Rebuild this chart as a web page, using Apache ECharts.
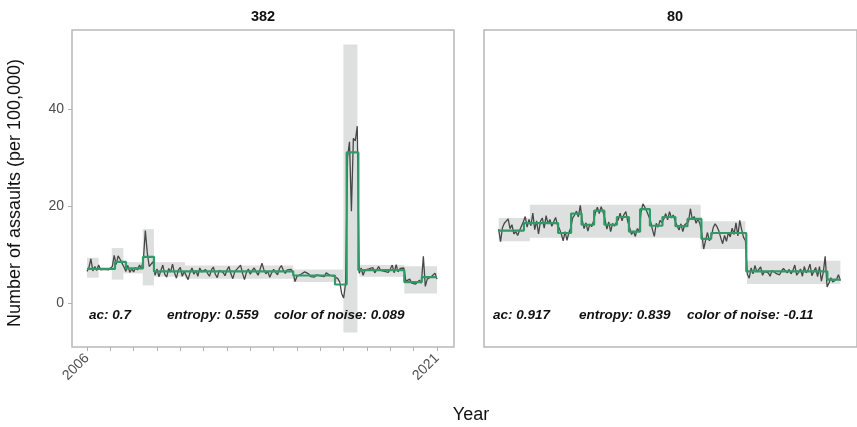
<!DOCTYPE html>
<html><head><meta charset="utf-8">
<script src="https://cdn.jsdelivr.net/npm/echarts@6/dist/echarts.min.js"></script>
<style>html,body{margin:0;padding:0;background:#fff}#c{width:857px;height:427px}</style>
</head><body><div id="c"></div>
<script>
// ---- data ----
const startYear = 2006;
const panelTitles = ['382', '80'];
const yTickValues = [0, 20, 40];
const xTickValues = [2006,2007,2008,2009,2010,2011,2012,2013,2014,2015,2016,2017,2018,2019,2020,2021];
const xLabelValues = [2006, 2021];

// monthly rates, Jan 2006 .. Jan 2021
const leftRaw = [
 6.6,7.4,9.2,6.7,7.6,6.8,7.9,6.9,7.3,7.0,7.4,6.9,
 7.2,7.6,9.9,8.0,9.8,9.1,8.3,7.5,6.6,7.8,6.4,7.1,
 6.5,7.4,6.9,7.9,7.1,9.0,15.0,10.4,7.6,7.2,8.6,5.8,
 7.1,5.5,6.8,7.9,6.0,5.4,7.2,6.5,8.1,6.3,5.2,6.9,
 7.4,5.6,6.6,7.0,4.9,6.4,7.3,6.0,6.8,5.6,7.3,6.5,
 6.1,7.0,6.2,5.6,6.9,7.5,6.0,5.3,6.8,7.2,6.4,5.7,
 6.9,7.6,6.1,5.1,6.5,7.0,6.6,7.9,6.2,4.9,6.4,7.1,
 6.0,6.8,7.3,6.5,5.8,7.0,8.3,6.9,6.1,6.6,5.4,6.3,
 7.0,6.4,5.9,7.2,7.8,6.8,6.2,6.9,6.5,7.0,6.3,4.5,
 5.6,5.2,6.0,5.8,6.5,6.8,6.1,5.5,5.8,5.4,5.9,5.6,
 5.7,6.0,5.5,6.3,6.1,5.8,5.9,5.6,6.0,5.1,4.4,2.0,
 1.1,4.1,30.0,33.3,19.0,34.0,33.5,36.5,6.2,7.3,5.8,6.9,
 6.5,7.1,6.7,7.4,6.3,6.9,7.6,6.8,7.2,6.6,7.0,6.4,
 7.1,7.9,6.3,8.0,6.5,7.2,6.8,7.3,4.6,4.3,5.0,4.2,
 4.5,4.0,3.6,4.8,4.2,9.7,3.5,5.0,4.6,5.5,5.2,6.2,
 5.0
];
const rightRaw = [
 15.3,12.7,15.6,16.5,16.2,17.4,15.4,16.2,14.3,14.8,14.0,15.0,14.6,
 16.8,17.9,15.7,17.3,16.0,18.6,15.2,17.0,14.3,16.9,17.6,15.5,18.1,16.4,17.3,15.9,16.8,17.7,16.1,
 15.4,14.3,12.9,14.8,13.0,14.6,15.6,
 17.6,18.2,19.0,17.8,20.2,
 17.2,15.4,16.6,14.9,16.3,15.8,17.0,
 18.7,19.8,18.5,19.9,18.8,
 17.4,15.3,16.8,14.8,16.5,15.9,16.7,
 17.2,18.6,17.0,18.3,18.9,16.9,
 15.6,14.2,14.9,13.8,15.4,14.8,
 18.8,20.5,19.8,19.0,18.9,
 17.0,15.2,13.8,16.5,15.7,17.1,16.6,
 17.4,18.5,17.2,18.9,17.6,18.2,16.9,
 16.6,15.1,16.4,14.8,16.2,16.3,
 16.8,19.5,17.3,17.9,16.5,17.4,16.4,
 14.5,11.2,13.0,14.6,12.9,13.6,
 15.6,16.4,15.8,14.9,13.5,12.3,14.0,12.8,14.6,13.7,15.5,14.2,16.6,13.9,17.1,15.2,13.6,12.9,
 6.0,5.2,7.3,6.1,7.8,6.5,6.2,7.5,5.8,6.6,6.9,6.3,5.6,6.8,7.0,6.2,6.5,5.9,6.7,7.2,
 6.9,6.3,7.0,6.1,6.8,7.9,5.8,6.4,7.1,5.6,7.6,6.3,6.9,8.1,5.7,6.6,7.4,5.5,
 7.6,4.6,6.4,9.7,3.4,
 4.2,5.3,4.4,4.8,5.0,5.9,4.7
];

// segment means (step line): breakpoints in years and level per segment
const leftStepBreaks = [2006.0,2007.2,2007.67,2008.4,2008.87,2014.84,2016.63,2017.13,2017.63,2019.6,2020.35,2021.0];
const leftStepLevels = [7.1,8.55,7.2,9.6,6.6,5.75,3.9,31.1,6.85,4.4,5.4];
const rightStepBreaks = [2006.0,2007.11,2008.61,2009.18,2009.64,2010.19,2010.64,2011.19,2011.72,2012.21,2012.64,2013.19,2013.76,2014.29,2014.9,2015.33,2016.87,2020.43,2021.0];
const rightStepLevels = [15.0,16.55,14.5,18.5,16.2,19.1,16.2,17.8,14.8,19.4,16.0,17.8,15.9,17.4,13.3,14.5,6.6,4.9];

// grey bands: start year, end year, low, high
const leftBandStart = [2006.0,2007.06,2007.56,2008.39,2008.87,2010.2,2014.84,2016.99,2017.67,2019.6];
const leftBandEnd   = [2006.5,2007.56,2008.39,2008.87,2010.2,2014.84,2016.99,2017.59,2019.6,2021.0];
const leftBandLow   = [5.3,4.9,6.2,3.7,5.5,5.1,4.4,-6.0,5.5,2.05];
const leftBandHigh  = [9.4,11.4,8.5,15.3,8.5,7.8,7.0,53.3,7.9,7.65];
const rightBandStart = [2006.0,2007.37,2014.87,2016.9];
const rightBandEnd   = [2007.37,2014.87,2016.83,2021.0];
const rightBandLow   = [12.8,13.5,11.2,4.0];
const rightBandHigh  = [17.6,20.3,16.9,8.8];

const leftStats  = ['ac: 0.7', 'entropy: 0.559', 'color of noise: 0.089'];
const rightStats = ['ac: 0.917', 'entropy: 0.839', 'color of noise: -0.11'];

// ---- build ----
const toPoints = raw => raw.map((v, i) => [startYear + i / 12, v]);
const toSteps = (b, l) => { const out = []; l.forEach((v, i) => { out.push([b[i], v]); out.push([b[i + 1], v]); }); return out; };
const toBands = (s, e, lo, hi) => s.map((v, i) => [v, e[i], lo[i], hi[i]]);

const FONT = '"Liberation Sans", Arial, sans-serif';
const xMin = 2005.357, xMax = 2021.73;
const yMin = -8.97, yMax = 56.3;

function bandSeries(idx, data) {
  return {
    type: 'custom', xAxisIndex: idx, yAxisIndex: idx, z: 1, silent: true,
    encode: { x: [0, 1], y: [2, 3] },
    data: data,
    renderItem: function (params, api) {
      const p0 = api.coord([api.value(0), api.value(3)]);
      const p1 = api.coord([api.value(1), api.value(2)]);
      return { type: 'rect', shape: { x: p0[0], y: p0[1], width: p1[0] - p0[0], height: p1[1] - p0[1] }, style: { fill: '#dedfdf' } };
    }
  };
}
function rawSeries(idx, raw) {
  return { type: 'line', xAxisIndex: idx, yAxisIndex: idx, z: 2, showSymbol: false, silent: true,
    data: toPoints(raw), lineStyle: { color: '#474747', width: 1.3 } };
}
function stepSeries(idx, b, l) {
  return { type: 'line', xAxisIndex: idx, yAxisIndex: idx, z: 3, showSymbol: false, silent: true,
    data: toSteps(b, l), lineStyle: { color: '#2f9a66', width: 2.2 } };
}

const grids = [
  { left: 72, top: 30, width: 382, height: 317, show: true, borderColor: '#b8b8b8', borderWidth: 1.5, backgroundColor: 'transparent' },
  { left: 484, top: 30, width: 382, height: 317, show: true, borderColor: '#b8b8b8', borderWidth: 1.5, backgroundColor: 'transparent' }
];

const xAxes = [0, 1].map(i => ({
  type: 'value', gridIndex: i, min: xMin, max: xMax,
  splitLine: { show: false }, axisLine: { show: false, onZero: false },
  axisTick: i === 0 ? { show: true, length: 4, customValues: xTickValues, lineStyle: { color: '#b0b0b0', width: 1 } } : { show: false },
  axisLabel: i === 0 ? { show: true, customValues: xLabelValues, formatter: v => String(v), rotate: 45, margin: 9, fontSize: 14, color: '#4d4d4d', fontFamily: FONT } : { show: false }
}));
const yAxes = [0, 1].map(i => ({
  type: 'value', gridIndex: i, min: yMin, max: yMax,
  splitLine: { show: false }, axisLine: { show: false, onZero: false },
  axisTick: i === 0 ? { show: true, length: 4, customValues: yTickValues, lineStyle: { color: '#b0b0b0', width: 1 } } : { show: false },
  axisLabel: i === 0 ? { show: true, customValues: yTickValues, formatter: v => String(v), margin: 8, fontSize: 14, color: '#4d4d4d', fontFamily: FONT } : { show: false }
}));

const statFont = 'italic bold 13.5px ' + FONT;
function statTexts(xs, texts) {
  return texts.map((t, i) => ({ type: 'text', z: 100, x: xs[i], y: 315, style: { text: t, font: statFont, fill: '#111', verticalAlign: 'middle', align: 'left' } }));
}

const graphics = [
  { type: 'text', z: 100, x: 263, y: 17, style: { text: panelTitles[0], font: 'bold 14.5px ' + FONT, fill: '#111', align: 'center', verticalAlign: 'middle' } },
  { type: 'text', z: 100, x: 675, y: 17, style: { text: panelTitles[1], font: 'bold 14.5px ' + FONT, fill: '#111', align: 'center', verticalAlign: 'middle' } },
  { type: 'text', z: 100, x: 15, y: 193, rotation: Math.PI / 2, style: { text: 'Number of assaults (per 100,000)', font: '18px ' + FONT, fill: '#111', align: 'center', verticalAlign: 'middle' } },
  { type: 'text', z: 100, x: 471, y: 415, style: { text: 'Year', font: '18px ' + FONT, fill: '#111', align: 'center', verticalAlign: 'middle' } }
].concat(statTexts([89, 167, 274], leftStats), statTexts([493, 579, 687], rightStats));

const chart = echarts.init(document.getElementById('c'), null, { renderer: 'canvas' });
chart.setOption({
  animation: false,
  backgroundColor: '#ffffff',
  grid: grids, xAxis: xAxes, yAxis: yAxes,
  graphic: graphics,
  series: [
    bandSeries(0, toBands(leftBandStart, leftBandEnd, leftBandLow, leftBandHigh)),
    rawSeries(0, leftRaw),
    stepSeries(0, leftStepBreaks, leftStepLevels),
    bandSeries(1, toBands(rightBandStart, rightBandEnd, rightBandLow, rightBandHigh)),
    rawSeries(1, rightRaw),
    stepSeries(1, rightStepBreaks, rightStepLevels)
  ]
});
</script></body></html>
